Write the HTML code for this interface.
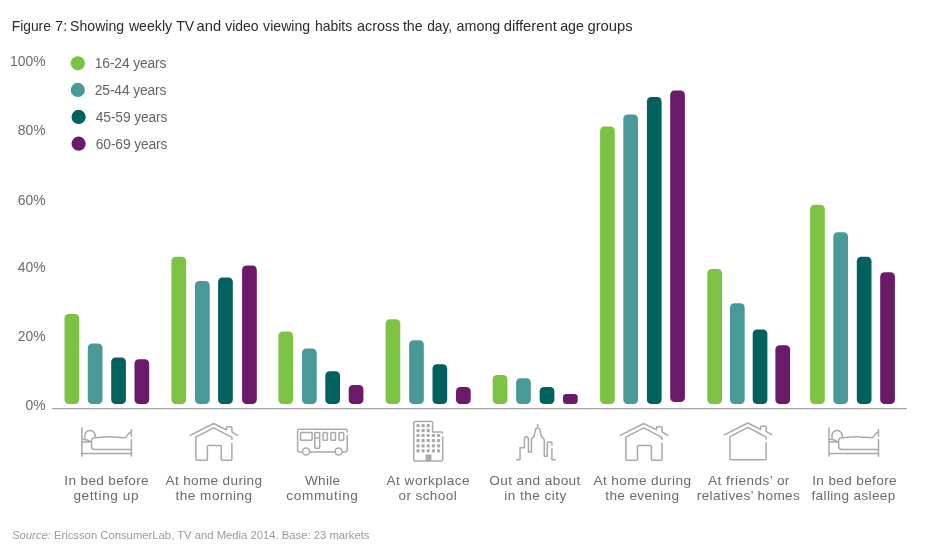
<!DOCTYPE html>
<html lang="en">
<head>
<meta charset="utf-8">
<title>Figure 7: Weekly TV and video viewing habits across the day</title>
<style>
html,body{margin:0;padding:0;background:#fff;}
body{width:927px;height:550px;overflow:hidden;font-family:"Liberation Sans",Arial,Helvetica,sans-serif;}
svg{display:block;}
text{font-family:"Liberation Sans",Arial,Helvetica,sans-serif;}
.title{font-size:15px;fill:#2b2b2b;}
.ax{font-size:13.9px;fill:#6a6b6d;}
.lg{font-size:13.8px;fill:#636466;}
.lb{font-size:13.6px;fill:#6a6b6d;}
.src{font-size:11.3px;fill:#9a9b9d;}
.ic{fill:none;stroke:#a7a9ac;stroke-width:1.5;stroke-linecap:butt;stroke-linejoin:round;}
</style>
</head>
<body>
<svg width="927" height="550" viewBox="0 0 927 550">
<rect width="927" height="550" fill="#ffffff"/>
<text class="title" y="30.6"><tspan x="11.8" textLength="39.1" lengthAdjust="spacingAndGlyphs">Figure</tspan> <tspan x="55.1" textLength="12.1" lengthAdjust="spacingAndGlyphs">7:</tspan> <tspan x="70.1" textLength="54.0" lengthAdjust="spacingAndGlyphs">Showing</tspan> <tspan x="128.9" textLength="43.2" lengthAdjust="spacingAndGlyphs">weekly</tspan> <tspan x="176.2" textLength="18.0" lengthAdjust="spacingAndGlyphs">TV</tspan> <tspan x="196.5" textLength="24.6" lengthAdjust="spacingAndGlyphs">and</tspan> <tspan x="225.2" textLength="33.4" lengthAdjust="spacingAndGlyphs">video</tspan> <tspan x="263.1" textLength="47.1" lengthAdjust="spacingAndGlyphs">viewing</tspan> <tspan x="315.0" textLength="37.2" lengthAdjust="spacingAndGlyphs">habits</tspan> <tspan x="356.9" textLength="42.6" lengthAdjust="spacingAndGlyphs">across</tspan> <tspan x="402.9" textLength="19.7" lengthAdjust="spacingAndGlyphs">the</tspan> <tspan x="427.2" textLength="24.9" lengthAdjust="spacingAndGlyphs">day,</tspan> <tspan x="456.6" textLength="43.7" lengthAdjust="spacingAndGlyphs">among</tspan> <tspan x="503.7" textLength="53.1" lengthAdjust="spacingAndGlyphs">different</tspan> <tspan x="560.2" textLength="23.8" lengthAdjust="spacingAndGlyphs">age</tspan> <tspan x="587.4" textLength="45.4" lengthAdjust="spacingAndGlyphs">groups</tspan></text>
<text class="ax" x="45.5" y="65.5" text-anchor="end">100%</text>
<text class="ax" x="45.5" y="135.3" text-anchor="end">80%</text>
<text class="ax" x="45.5" y="204.5" text-anchor="end">60%</text>
<text class="ax" x="45.5" y="271.6" text-anchor="end">40%</text>
<text class="ax" x="45.5" y="340.5" text-anchor="end">20%</text>
<text class="ax" x="45.5" y="409.8" text-anchor="end">0%</text>
<circle cx="77.8" cy="63.3" r="7.1" fill="#7CC343"/>
<text class="lg" x="94.8" y="67.9" textLength="71.6" lengthAdjust="spacing">16-24 years</text>
<circle cx="77.8" cy="89.9" r="7.1" fill="#4A9999"/>
<text class="lg" x="94.8" y="94.6" textLength="71.6" lengthAdjust="spacing">25-44 years</text>
<circle cx="78.6" cy="116.9" r="7.1" fill="#00615F"/>
<text class="lg" x="95.8" y="121.7" textLength="71.6" lengthAdjust="spacing">45-59 years</text>
<circle cx="78.6" cy="143.7" r="7.1" fill="#6B1A6A"/>
<text class="lg" x="95.8" y="148.6" textLength="71.6" lengthAdjust="spacing">60-69 years</text>
<rect x="52" y="407.9" width="855" height="1.4" rx="0.7" fill="#a3a4a6"/>
<rect x="64.5" y="314.0" width="14.7" height="90.0" rx="4.3" ry="4.3" fill="#7CC343"/>
<rect x="87.8" y="343.5" width="14.7" height="60.5" rx="4.3" ry="4.3" fill="#4A9999"/>
<rect x="111.2" y="357.5" width="14.7" height="46.5" rx="4.3" ry="4.3" fill="#00615F"/>
<rect x="134.5" y="359.2" width="14.7" height="44.8" rx="4.3" ry="4.3" fill="#6B1A6A"/>
<rect x="171.4" y="256.7" width="14.7" height="147.3" rx="4.3" ry="4.3" fill="#7CC343"/>
<rect x="195.0" y="281.1" width="14.7" height="122.9" rx="4.3" ry="4.3" fill="#4A9999"/>
<rect x="218.1" y="277.4" width="14.7" height="126.6" rx="4.3" ry="4.3" fill="#00615F"/>
<rect x="242.1" y="265.4" width="14.7" height="138.6" rx="4.3" ry="4.3" fill="#6B1A6A"/>
<rect x="278.4" y="331.5" width="14.7" height="72.5" rx="4.3" ry="4.3" fill="#7CC343"/>
<rect x="302.0" y="348.5" width="14.7" height="55.5" rx="4.3" ry="4.3" fill="#4A9999"/>
<rect x="325.3" y="371.2" width="14.7" height="32.8" rx="4.3" ry="4.3" fill="#00615F"/>
<rect x="348.7" y="385.0" width="14.7" height="19.0" rx="4.3" ry="4.3" fill="#6B1A6A"/>
<rect x="385.6" y="319.3" width="14.7" height="84.7" rx="4.3" ry="4.3" fill="#7CC343"/>
<rect x="409.1" y="340.2" width="14.7" height="63.8" rx="4.3" ry="4.3" fill="#4A9999"/>
<rect x="432.5" y="364.2" width="14.7" height="39.8" rx="4.3" ry="4.3" fill="#00615F"/>
<rect x="456.0" y="386.9" width="14.7" height="17.1" rx="4.3" ry="4.3" fill="#6B1A6A"/>
<rect x="492.7" y="374.9" width="14.7" height="29.1" rx="4.3" ry="4.3" fill="#7CC343"/>
<rect x="516.1" y="378.2" width="14.7" height="25.8" rx="4.3" ry="4.3" fill="#4A9999"/>
<rect x="539.7" y="386.9" width="14.7" height="17.1" rx="4.3" ry="4.3" fill="#00615F"/>
<rect x="563.0" y="393.9" width="14.7" height="10.1" rx="3.3" ry="3.3" fill="#6B1A6A"/>
<rect x="600.1" y="126.6" width="14.7" height="277.4" rx="4.3" ry="4.3" fill="#7CC343"/>
<rect x="623.3" y="114.4" width="14.7" height="289.6" rx="4.3" ry="4.3" fill="#4A9999"/>
<rect x="646.9" y="97.1" width="14.7" height="306.9" rx="4.3" ry="4.3" fill="#00615F"/>
<rect x="670.2" y="90.4" width="14.7" height="311.6" rx="4.3" ry="4.3" fill="#6B1A6A"/>
<rect x="707.3" y="269.1" width="14.7" height="134.9" rx="4.3" ry="4.3" fill="#7CC343"/>
<rect x="730.0" y="303.3" width="14.7" height="100.7" rx="4.3" ry="4.3" fill="#4A9999"/>
<rect x="752.7" y="329.5" width="14.7" height="74.5" rx="4.3" ry="4.3" fill="#00615F"/>
<rect x="775.4" y="345.2" width="14.7" height="58.8" rx="4.3" ry="4.3" fill="#6B1A6A"/>
<rect x="810.1" y="204.7" width="14.7" height="199.3" rx="4.3" ry="4.3" fill="#7CC343"/>
<rect x="833.3" y="232.2" width="14.7" height="171.8" rx="4.3" ry="4.3" fill="#4A9999"/>
<rect x="856.8" y="256.8" width="14.7" height="147.2" rx="4.3" ry="4.3" fill="#00615F"/>
<rect x="880.2" y="272.3" width="14.7" height="131.7" rx="4.3" ry="4.3" fill="#6B1A6A"/>
<g class="ic" transform="translate(0,0)">
<path d="M81.9 427.3V456.8"/>
<path d="M131.4 429V436.8M131.4 439.2V456.8"/>
<path d="M81.9 453.4H131.4"/>
<path d="M81.9 439.2C85.5 439.3 89 440.2 90.9 442M81.9 442.1H91.6"/>
<path d="M85.5 438.7A5.3 5.3 0 1 1 95.0 437.6"/>
<path d="M131.4 449.4H94.6Q91.6 449.4 91.6 446.4V440.6Q91.6 437.9 95 437.7C103 437 108 436.4 113 436.9C119 437.4 123 438 125.5 437.6C127.2 436 128 432.6 131.4 431.9"/>
</g>
<g class="ic" transform="translate(747.1,0)">
<path d="M81.9 427.3V456.8"/>
<path d="M131.4 429V436.8M131.4 439.2V456.8"/>
<path d="M81.9 453.4H131.4"/>
<path d="M81.9 439.2C85.5 439.3 89 440.2 90.9 442M81.9 442.1H91.6"/>
<path d="M85.5 438.7A5.3 5.3 0 1 1 95.0 437.6"/>
<path d="M131.4 449.4H94.6Q91.6 449.4 91.6 446.4V440.6Q91.6 437.9 95 437.7C103 437 108 436.4 113 436.9C119 437.4 123 438 125.5 437.6C127.2 436 128 432.6 131.4 431.9"/>
</g>
<g class="ic" transform="translate(0,0)">
<path d="M189.6 435.7L213.6 423.5L226.4 429.8V427.6Q226.4 426.8 227.2 426.8H231.1Q231.9 426.8 231.9 427.6V431.9L238.2 435.7"/>
<path d="M231.9 440.1V437.4L213.6 427.9L195.8 437.2V459.3Q195.8 460.3 196.8 460.3H206.4Q207.4 460.3 207.4 459.3V446.5Q207.4 445.5 208.4 445.5H220.3Q221.3 445.5 221.3 446.5V459.3Q221.3 460.3 222.3 460.3H230.9Q231.9 460.3 231.9 459.3V442.8"/>
</g>
<g class="ic" transform="translate(430.1,0)">
<path d="M189.6 435.7L213.6 423.5L226.4 429.8V427.6Q226.4 426.8 227.2 426.8H231.1Q231.9 426.8 231.9 427.6V431.9L238.2 435.7"/>
<path d="M231.9 440.1V437.4L213.6 427.9L195.8 437.2V459.3Q195.8 460.3 196.8 460.3H206.4Q207.4 460.3 207.4 459.3V446.5Q207.4 445.5 208.4 445.5H220.3Q221.3 445.5 221.3 446.5V459.3Q221.3 460.3 222.3 460.3H230.9Q231.9 460.3 231.9 459.3V442.8"/>
</g>
<g class="ic" transform="translate(534.2,-0.5)">
<path d="M189.6 435.7L213.6 423.5L226.4 429.8V427.6Q226.4 426.8 227.2 426.8H231.1Q231.9 426.8 231.9 427.6V431.9L238.2 435.7"/>
<path d="M231.9 440.1V437.4L213.6 427.9L195.8 437.2V459.3Q195.8 460.3 196.8 460.3H230.9Q231.9 460.3 231.9 459.3V442.8"/>
</g>
<g class="ic">
<path d="M347.2 432.4V431.2Q347.2 429.2 345.2 429.2H299.6Q297.6 429.2 297.6 431.2V450.1Q297.6 452.1 299.6 452.1H302.6M309.6 452.1H335.1M342.1 452.1H345.2Q347.2 452.1 347.2 450.1V434.8"/>
<circle cx="306.1" cy="451.6" r="3.5"/>
<circle cx="338.6" cy="451.6" r="3.5"/>
<rect x="300.6" y="432.4" width="11.5" height="7.9" rx="0.8"/>
<rect x="314.8" y="432.4" width="4.9" height="15.9" rx="1"/>
<path d="M314.8 437.9H319.7"/>
<rect x="323" y="432.4" width="4.4" height="7.9" rx="0.8"/>
<rect x="330.9" y="432.4" width="4.6" height="7.9" rx="0.8"/>
<rect x="339.1" y="432.4" width="4.6" height="7.9" rx="0.8"/>
</g>
<g class="ic">
<path d="M442.7 433.5V432.9Q442.7 431.9 441.7 431.9H432.6V422.5Q432.6 421.5 431.6 421.5H414.8Q413.8 421.5 413.8 422.5V460Q413.8 461 414.8 461H441.7Q442.7 461 442.7 460V436.3"/>
</g>
<g fill="#a7a9ac">
<rect x="416.4" y="424.0" width="3.2" height="3.2" rx="0.8"/><rect x="421.5" y="424.0" width="3.2" height="3.2" rx="0.8"/><rect x="426.6" y="424.0" width="3.2" height="3.2" rx="0.8"/>
<rect x="416.4" y="429.0" width="3.2" height="3.2" rx="0.8"/><rect x="421.5" y="429.0" width="3.2" height="3.2" rx="0.8"/><rect x="426.6" y="429.0" width="3.2" height="3.2" rx="0.8"/>
<rect x="416.4" y="433.9" width="3.2" height="3.2" rx="0.8"/><rect x="421.5" y="433.9" width="3.2" height="3.2" rx="0.8"/><rect x="426.6" y="433.9" width="3.2" height="3.2" rx="0.8"/><rect x="431.8" y="433.9" width="3.2" height="3.2" rx="0.8"/><rect x="437.0" y="433.9" width="3.2" height="3.2" rx="0.8"/>
<rect x="416.4" y="439.0" width="3.2" height="3.2" rx="0.8"/><rect x="421.5" y="439.0" width="3.2" height="3.2" rx="0.8"/><rect x="426.6" y="439.0" width="3.2" height="3.2" rx="0.8"/><rect x="431.8" y="439.0" width="3.2" height="3.2" rx="0.8"/><rect x="437.0" y="439.0" width="3.2" height="3.2" rx="0.8"/>
<rect x="416.4" y="444.2" width="3.2" height="3.2" rx="0.8"/><rect x="421.5" y="444.2" width="3.2" height="3.2" rx="0.8"/><rect x="426.6" y="444.2" width="3.2" height="3.2" rx="0.8"/><rect x="431.8" y="444.2" width="3.2" height="3.2" rx="0.8"/><rect x="437.0" y="444.2" width="3.2" height="3.2" rx="0.8"/>
<rect x="416.4" y="449.2" width="3.2" height="3.2" rx="0.8"/><rect x="421.5" y="449.2" width="3.2" height="3.2" rx="0.8"/><rect x="426.6" y="449.2" width="3.2" height="3.2" rx="0.8"/><rect x="431.8" y="449.2" width="3.2" height="3.2" rx="0.8"/><rect x="437.0" y="449.2" width="3.2" height="3.2" rx="0.8"/>
<rect x="425.6" y="454.5" width="5.9" height="6.5"/>
</g>
<g class="ic" stroke-linejoin="miter">
<path d="M516.2 459.7H520V447.7H524.4V438.1L526.4 436.4L528.4 438.1V452.1H531.4V439.5L534.2 435.7L535.6 429.2L537.7 427.5V423.9M537.7 427.5L539.6 429.2L541 435.2L544.3 439.9V456.2H547.3V442.3H551.9V445.5M551.9 448.3V459.7H555.8"/>
</g>
<text class="lb" x="106.5" y="484.9" text-anchor="middle" textLength="84.3" lengthAdjust="spacing">In bed before</text>
<text class="lb" x="106.0" y="500.0" text-anchor="middle" textLength="65.2" lengthAdjust="spacing">getting up</text>
<text class="lb" x="213.8" y="484.9" text-anchor="middle" textLength="96.5" lengthAdjust="spacing">At home during</text>
<text class="lb" x="213.8" y="500.0" text-anchor="middle" textLength="76.7" lengthAdjust="spacing">the morning</text>
<text class="lb" x="322.5" y="484.9" text-anchor="middle" textLength="35.2" lengthAdjust="spacing">While</text>
<text class="lb" x="322.1" y="500.0" text-anchor="middle" textLength="71.6" lengthAdjust="spacing">commuting</text>
<text class="lb" x="428.1" y="484.9" text-anchor="middle" textLength="83.1" lengthAdjust="spacing">At workplace</text>
<text class="lb" x="427.6" y="500.0" text-anchor="middle" textLength="58.3" lengthAdjust="spacing">or school</text>
<text class="lb" x="534.8" y="484.9" text-anchor="middle" textLength="91.1" lengthAdjust="spacing">Out and about</text>
<text class="lb" x="535.2" y="500.0" text-anchor="middle" textLength="62.0" lengthAdjust="spacing">in the city</text>
<text class="lb" x="642.2" y="484.9" text-anchor="middle" textLength="97.5" lengthAdjust="spacing">At home during</text>
<text class="lb" x="642.2" y="500.0" text-anchor="middle" textLength="73.7" lengthAdjust="spacing">the evening</text>
<text class="lb" x="748.7" y="484.9" text-anchor="middle" textLength="81.4" lengthAdjust="spacing">At friends’ or</text>
<text class="lb" x="748.3" y="500.0" text-anchor="middle" textLength="103.0" lengthAdjust="spacing">relatives’ homes</text>
<text class="lb" x="854.4" y="484.9" text-anchor="middle" textLength="84.4" lengthAdjust="spacing">In bed before</text>
<text class="lb" x="853.4" y="500.0" text-anchor="middle" textLength="83.8" lengthAdjust="spacing">falling asleep</text>
<text class="src" x="12" y="539.2" textLength="357.5" lengthAdjust="spacing"><tspan font-style="italic">Source:</tspan> Ericsson ConsumerLab, TV and Media 2014. Base: 23 markets</text>
</svg>
</body>
</html>
